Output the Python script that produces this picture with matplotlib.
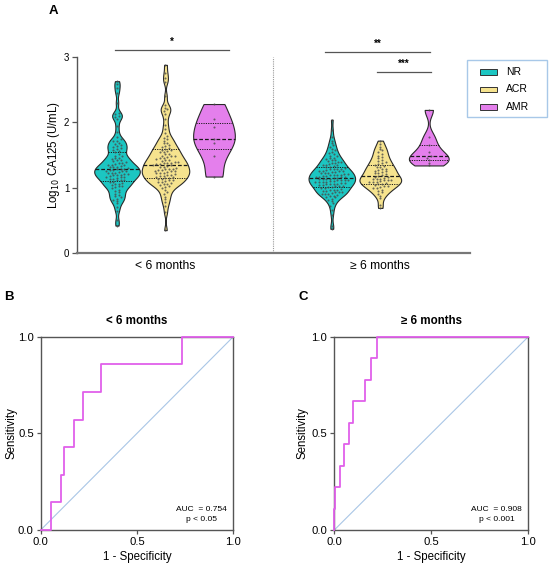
import numpy as np
import matplotlib
matplotlib.use("Agg")
import matplotlib.pyplot as plt
from matplotlib.patches import Rectangle

plt.rcParams['font.family'] = ['Liberation Sans', 'DejaVu Sans']

# ---------------- data ----------------
groups = ["NR", "ACR", "AMR"]
periods = ["< 6 months", "\u2265 6 months"]

nr_early = [0.42, 0.50, 0.64, 0.70, 0.76, 0.79,
            0.81, 0.83, 0.85, 0.87, 0.89, 0.91, 0.93, 0.95, 0.97, 0.99,
            1.01, 1.02, 1.03, 1.04, 1.05, 1.06, 1.07, 1.08, 1.09,
            1.11, 1.12, 1.12, 1.13, 1.14, 1.15, 1.16, 1.16, 1.17, 1.18, 1.19, 1.19,
            1.20, 1.21, 1.21, 1.22, 1.23, 1.23, 1.24, 1.25, 1.25, 1.26, 1.27, 1.27, 1.28, 1.29, 1.29,
            1.30, 1.31, 1.31, 1.32, 1.33, 1.34, 1.35, 1.35, 1.36, 1.37, 1.38, 1.39,
            1.41, 1.42, 1.43, 1.44, 1.45, 1.46, 1.48, 1.49,
            1.52, 1.54, 1.56, 1.58, 1.59,
            1.61, 1.62, 1.64, 1.65, 1.67, 1.69,
            1.71, 1.72, 1.74, 1.77,
            1.85, 1.95,
            2.05, 2.08, 2.10, 2.12, 2.15,
            2.30,
            2.45, 2.52, 2.58, 2.63]

acr_early = [0.35, 0.62, 0.72, 0.78,
             0.82, 0.86, 0.90, 0.93, 0.96, 0.99,
             1.01, 1.03, 1.04, 1.05, 1.06, 1.07, 1.08, 1.09,
             1.10, 1.11, 1.12, 1.13, 1.14, 1.15, 1.15, 1.16, 1.17, 1.18, 1.18, 1.19,
             1.20, 1.21, 1.22, 1.22, 1.23, 1.24, 1.25, 1.25, 1.26, 1.27, 1.27, 1.28, 1.29, 1.29,
             1.30, 1.31, 1.32, 1.33, 1.34, 1.35, 1.36, 1.36, 1.37, 1.37, 1.38, 1.39, 1.39,
             1.41, 1.42, 1.43, 1.44, 1.45, 1.46, 1.47, 1.48, 1.48, 1.49,
             1.51, 1.52, 1.54, 1.55, 1.56, 1.57, 1.58, 1.59,
             1.61, 1.63, 1.64, 1.66, 1.68, 1.69,
             1.72, 1.74, 1.76, 1.79,
             1.84, 1.90, 1.96,
             2.05,
             2.13, 2.17, 2.20, 2.22, 2.26,
             2.40,
             2.62, 2.68, 2.76, 2.88]

amr_early = [1.17, 1.48, 1.69, 1.75, 1.93, 2.05, 2.28]

nr_late = [0.37, 0.42, 0.58, 0.66,
           0.72, 0.76, 0.79,
           0.81, 0.83, 0.85, 0.86, 0.87, 0.88, 0.89,
           0.90, 0.91, 0.91, 0.92, 0.93, 0.93, 0.94, 0.95, 0.95, 0.96, 0.97, 0.97, 0.98, 0.99,
           1.00, 1.01, 1.01, 1.02, 1.02, 1.03, 1.04, 1.04, 1.05, 1.05, 1.06, 1.06, 1.07, 1.07, 1.08, 1.08, 1.09, 1.09,
           1.10, 1.10, 1.11, 1.11, 1.12, 1.12, 1.13, 1.13, 1.14, 1.14, 1.15, 1.15, 1.16, 1.16, 1.17, 1.17, 1.18, 1.18, 1.19, 1.19,
           1.20, 1.20, 1.21, 1.21, 1.22, 1.22, 1.23, 1.24, 1.24, 1.25, 1.25, 1.26, 1.26, 1.27, 1.28, 1.28, 1.29, 1.29,
           1.30, 1.31, 1.32, 1.33, 1.34, 1.35, 1.35, 1.36, 1.37, 1.38, 1.39, 1.39,
           1.41, 1.42, 1.43, 1.44, 1.45, 1.46, 1.48, 1.49,
           1.51, 1.53, 1.55, 1.57, 1.59,
           1.62, 1.65, 1.68,
           1.72, 1.77,
           1.88, 2.04]

acr_late = [0.69, 0.73, 0.84, 0.88,
            0.91, 0.93, 0.95, 0.97, 0.99,
            1.00, 1.01, 1.02, 1.03, 1.04, 1.05, 1.06, 1.07, 1.08, 1.09, 1.09,
            1.10, 1.11, 1.12, 1.12, 1.13, 1.14, 1.14, 1.15, 1.16, 1.17, 1.18, 1.19,
            1.21, 1.22, 1.23, 1.24, 1.25, 1.26, 1.27, 1.28, 1.29,
            1.31, 1.32, 1.33, 1.35, 1.36, 1.38, 1.39,
            1.41, 1.43, 1.45, 1.47, 1.49,
            1.52, 1.55, 1.57, 1.59,
            1.62, 1.67, 1.72]

amr_late = [1.34, 1.38, 1.42, 1.46, 1.48, 1.55, 1.65, 1.78, 2.19]

violin_data = [nr_early, acr_early, amr_early, nr_late, acr_late, amr_late]

# ROC curves (step vertices)
roc_b_fpr = [0, 0.053, 0.053, 0.105, 0.105, 0.123, 0.123, 0.172, 0.172, 0.218, 0.218,
             0.315, 0.315, 0.733, 0.733, 1.0]
roc_b_tpr = [0, 0, 0.143, 0.143, 0.286, 0.286, 0.429, 0.429, 0.571, 0.571, 0.714,
             0.714, 0.857, 0.857, 1.0, 1.0]
roc_c_fpr = [0, 0, 0.005, 0.005, 0.029, 0.029, 0.048, 0.048, 0.077, 0.077, 0.096, 0.096,
             0.160, 0.160, 0.187, 0.187, 0.220, 0.220, 1.0]
roc_c_tpr = [0, 0.111, 0.111, 0.222, 0.222, 0.333, 0.333, 0.444, 0.444, 0.556, 0.556,
             0.667, 0.667, 0.778, 0.778, 0.889, 0.889, 1.0, 1.0]
auc_b, p_b = "0.754", "p < 0.05"
auc_c, p_c = "0.908", "p < 0.001"

# ---------------- style ----------------
colors = ["#1CC6C2", "#F6E38E", "#E47FEC"]
positions = [1.0, 2.0, 3.0, 5.43, 6.43, 7.43]
halfwidths = [0.47, 0.49, 0.43, 0.48, 0.43, 0.41]
bws = [0.055, 0.06, 0.16, 0.06, 0.065, 0.095]

fig = plt.figure(figsize=(5.5, 5.69), dpi=100)
W, H = 550, 569


def ax_px(l, t, r, b):
    return fig.add_axes([l / W, 1 - b / H, (r - l) / W, (b - t) / H])


# ---------------- Panel A ----------------
axA = ax_px(77, 57, 470, 253)
axA.set_xlim(0.175, 8.28)
axA.set_ylim(0, 3)


def kde(vals, grid, bw):
    v = np.asarray(vals)[:, None]
    return np.exp(-0.5 * ((grid[None, :] - v) / bw) ** 2).sum(axis=0)


for i, vals in enumerate(violin_data):
    vals = np.sort(np.asarray(vals, float))
    pos = positions[i]
    col = colors[i % 3]
    grid = np.linspace(vals.min(), vals.max(), 400)
    d = kde(vals, grid, bws[i])
    d = d / d.max() * halfwidths[i]
    axA.fill_betweenx(grid, pos - d, pos + d, facecolor=col, edgecolor="#2a2a2a",
                      linewidth=0.8, zorder=2)

    def hw(y):
        return np.interp(y, grid, d)

    q1, med, q3 = np.percentile(vals, [25, 50, 75])
    for q, ls, lw in [(q1, (0, (1.2, 1.2)), 0.7), (q3, (0, (1.2, 1.2)), 0.7), (med, (0, (3, 1.6)), 0.9)]:
        w = hw(q)
        axA.plot([pos - w, pos + w], [q, q], color="#1a1a1a", linestyle=ls, linewidth=lw, zorder=3)

    # dots (swarm-like arrangement inside the violin)
    dy = 0.045
    bins = np.floor(vals / dy).astype(int)
    xs, ys = [], []
    for b in np.unique(bins):
        yb = vals[bins == b]
        k = len(yb)
        w = hw(yb.mean()) * 0.8
        sp = min(0.075, 2 * w / max(k, 1))
        offs = (np.arange(k) - (k - 1) / 2) * sp
        xs.extend(pos + offs)
        ys.extend(yb)
    axA.scatter(xs, ys, s=2.2, color="#4a4a4a", alpha=0.8, linewidths=0, zorder=4)

# separator
axA.plot([4.22, 4.22], [0, 3], color="#9a9a9a", linestyle=(0, (1, 1)), linewidth=0.8, zorder=1)

for s in ["top", "right"]:
    axA.spines[s].set_visible(False)
axA.spines["left"].set_color("#555555")
axA.spines["left"].set_linewidth(1.0)
axA.spines["bottom"].set_color("#777777")
axA.spines["bottom"].set_linewidth(1.6)
axA.set_yticks([0, 1, 2, 3])
axA.set_yticklabels(["0", "1", "2", "3"])
axA.tick_params(axis="y", length=3.5, width=0.9, color="#555555", labelsize=7, pad=2)
axA.set_xticks([2.0, 6.43])
axA.set_xticklabels(periods)
axA.tick_params(axis="x", length=0, labelsize=8.7, pad=5)
axA.set_ylabel("Log$_{10}$ CA125 (U/mL)", fontsize=8.3)
axA.yaxis.set_label_coords(-0.037, 0.5)

# significance bars
sig = [(0.96, 3.31, 3.11, "*"), (5.29, 7.45, 3.08, "**"), (6.36, 7.47, 2.77, "***")]
for x0, x1, y, lab in sig:
    axA.plot([x0, x1], [y, y], color="#555555", linewidth=0.9, clip_on=False)
    axA.text((x0 + x1) / 2, y + 0.05, lab, ha="center", va="bottom", fontsize=7,
             fontweight="bold", clip_on=False)

# legend box (figure pixel layout)
fig.add_artist(Rectangle((467 / W, 1 - 117 / H), 80 / W, 57 / H, transform=fig.transFigure,
                         fill=True, facecolor="white", edgecolor="#A8C8E8", linewidth=1.0))
for g, c, yc in zip(groups, colors, [72, 89.5, 107]):
    fig.add_artist(Rectangle((480 / W, 1 - (yc + 2.8) / H), 17 / W, 5.6 / H,
                             transform=fig.transFigure, facecolor=c, edgecolor="#333333",
                             linewidth=0.7))
    fig.text(506 / W, 1 - yc / H, g, fontsize=7.5, ha="left", va="center")

fig.text(53 / W, 1 - 11 / H, "A", fontsize=9.5, fontweight="bold", ha="center", va="center")

# ---------------- Panels B, C ----------------
def roc_panel(ax, fpr, tpr, title, auc, p, ylab_x):
    ax.set_xlim(0, 1)
    ax.set_ylim(0, 1)
    ax.plot([0, 1], [0, 1], color="#A9C6E6", linewidth=0.8, zorder=1)
    ax.plot(fpr, tpr, color="#E060EA", linewidth=1.3, clip_on=False, zorder=3)
    for s in ax.spines.values():
        s.set_color("#555555")
        s.set_linewidth(1.0)
    ax.set_xticks([0, 0.5, 1.0])
    ax.set_yticks([0, 0.5, 1.0])
    ax.set_xticklabels(["0.0", "0.5", "1.0"])
    ax.set_yticklabels(["0.0", "0.5", "1.0"])
    ax.tick_params(length=3, width=0.9, color="#555555", labelsize=8.1, pad=2)
    ax.set_xlabel("1 - Specificity", fontsize=8.3, labelpad=3)
    ax.set_ylabel("Sensitivity", fontsize=8.3)
    ax.yaxis.set_label_coords(ylab_x, 0.5)
    ax.set_title(title, fontsize=8.3, fontweight="bold", pad=9)
    ax.text(0.836, 0.104, "AUC  = " + auc, fontsize=6, ha="center", va="center", transform=ax.transAxes)
    ax.text(0.836, 0.052, p, fontsize=6, ha="center", va="center", transform=ax.transAxes)


axB = ax_px(40.7, 336.7, 233.3, 530)
roc_panel(axB, roc_b_fpr, roc_b_tpr, periods[0], auc_b, p_b, -0.12)
axC = ax_px(334.3, 336.7, 528.3, 530)
roc_panel(axC, roc_c_fpr, roc_c_tpr, periods[1], auc_c, p_c, -0.131)

fig.text(9 / W, 1 - 297 / H, "B", fontsize=9.5, fontweight="bold", ha="center", va="center")
fig.text(303 / W, 1 - 297 / H, "C", fontsize=9.5, fontweight="bold", ha="center", va="center")

fig.savefig("out.png", dpi=100)
